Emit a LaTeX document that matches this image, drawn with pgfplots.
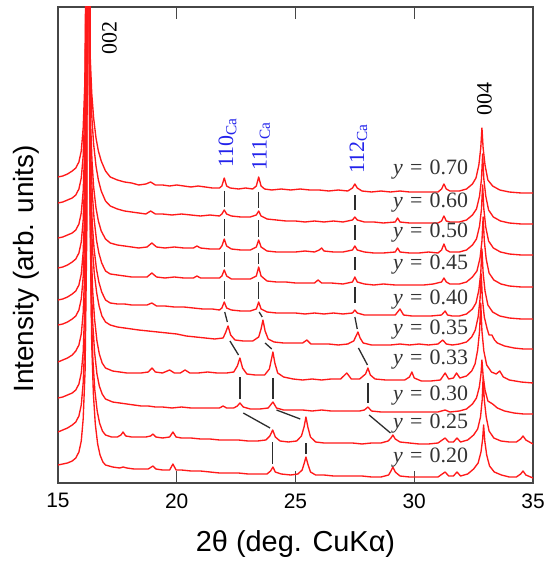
\documentclass[border=0pt]{standalone}
\usepackage{fontspec}
\setmainfont{Liberation Sans}
\newfontfamily\tnr{Liberation Serif}
\usepackage{pgfplots}
\pgfplotsset{compat=1.18}
\definecolor{axgray}{RGB}{70,70,70}
\definecolor{xrdred}{RGB}{255,25,25}
\definecolor{lblblue}{RGB}{35,35,235}
\definecolor{guide}{RGB}{45,45,45}

\begin{document}
\begin{tikzpicture}
\useasboundingbox (-58bp,-79bp) rectangle (489bp,483bp);
\begin{axis}[
scale only axis,
width=475bp, height=476bp,
xmin=15, xmax=35, ymin=0, ymax=476,
xtick={15,20,25,30,35}, ytick=\empty,
tick align=inside,
major tick length=12bp,
axis line style={draw=axgray, line width=1.3bp},
tick style={draw=axgray, line width=1.1bp},
/pgf/number format/assume math mode=true,
xticklabel style={font=\fontsize{21}{25}\selectfont, yshift=-7bp},
xlabel={2θ (deg. CuKα)},
ylabel={Intensity (arb. units)},
xlabel style={font=\fontsize{29}{33}\selectfont, at={(axis description cs:0.5,-0.128)}, anchor=center},
ylabel style={font=\fontsize{28}{32}\selectfont, at={(axis description cs:-0.066,0.45)}, anchor=center},
xrd/.style={draw=xrdred, line width=1.35bp, line join=round, mark=none},
gd/.style={draw=guide, line width=1.3bp, mark=none},
]
% y = 0.70
\addplot[xrd] coordinates {(15.0,306) (15.2,307) (15.4,309) (15.6,312) (15.75,315) (15.88,321) (15.98,332) (16.06,355) (16.13,400) (16.18,540) (16.23,2000) (16.29,540) (16.35,430) (16.42,390) (16.5,365) (16.6,345) (16.7,332) (16.82,322) (17.0,312) (17.2,306) (17.5,303) (17.8,301) (18.1,300) (18.4,298) (18.7,299) (18.9,301) (19.1,298) (19.4,298) (19.7,297) (20.0,298) (20.3,297) (20.6,296) (20.9,297) (21.2,296) (21.5,295) (21.8,295) (21.9,297) (22.0,305) (22.1,297) (22.25,295) (22.6,294) (22.9,295) (23.2,294) (23.35,297) (23.45,306) (23.55,297) (23.7,294) (24.0,293) (24.4,294) (24.8,293) (25.2,294) (25.6,293) (26.0,293) (26.4,292) (26.8,293) (27.2,292) (27.4,295) (27.5,299) (27.6,295) (27.8,292) (28.2,291) (28.6,292) (29.0,291) (29.4,292) (29.8,291) (30.2,291) (30.6,291) (31.0,291) (31.15,294) (31.25,299) (31.35,294) (31.5,292) (31.9,292) (32.2,294) (32.45,299) (32.6,305) (32.72,318) (32.8,335) (32.85,355) (32.9,335) (32.98,318) (33.1,303) (33.3,297) (33.6,293) (34.0,291) (34.5,290) (35.0,290)};
% y = 0.60
\addplot[xrd] coordinates {(15.0,280) (15.2,281) (15.4,283) (15.6,285) (15.75,288) (15.88,294) (15.98,305) (16.06,327) (16.13,374) (16.19,519) (16.24,2000) (16.3,519) (16.36,409) (16.43,364) (16.5,339) (16.6,317) (16.7,303) (16.82,292) (17.0,282) (17.2,277) (17.5,274) (17.8,272) (18.1,271) (18.4,270) (18.7,269) (18.9,272) (19.1,269) (19.4,269) (19.8,268) (20.2,269) (20.6,268) (21.0,267) (21.4,268) (21.8,267) (21.9,269) (22.0,273) (22.1,269) (22.3,267) (22.7,266) (23.1,266) (23.35,268) (23.45,272) (23.55,267) (23.8,264) (24.2,263) (24.6,262) (25.0,262) (25.4,261) (25.8,262) (26.2,261) (26.6,262) (27.0,261) (27.4,263) (27.5,266) (27.6,263) (27.9,261) (28.3,261) (28.7,260) (29.2,261) (29.3,265) (29.4,261) (29.8,260) (30.2,260) (30.6,260) (31.0,260) (31.15,262) (31.25,267) (31.35,262) (31.5,261) (31.9,261) (32.2,263) (32.45,268) (32.62,274) (32.75,287) (32.83,304) (32.88,329) (32.93,304) (33.01,287) (33.13,273) (33.33,266) (33.63,262) (34.0,260) (34.5,259) (35.0,259)};
% y = 0.50
\addplot[xrd] coordinates {(15.0,245) (15.2,246) (15.4,248) (15.6,250) (15.75,253) (15.88,259) (15.98,270) (16.06,292) (16.13,338) (16.19,488) (16.24,2000) (16.3,488) (16.36,368) (16.43,323) (16.5,296) (16.6,275) (16.7,262) (16.82,252) (17.0,244) (17.2,240) (17.5,238) (17.8,237) (18.1,236) (18.4,235) (18.75,236) (18.95,240) (19.15,236) (19.5,235) (19.9,236) (20.3,235) (20.7,235) (20.85,237) (21.0,235) (21.4,234) (21.8,234) (21.9,237) (22.0,244) (22.1,237) (22.3,234) (22.7,233) (23.1,233) (23.35,236) (23.45,243) (23.55,236) (23.8,232) (24.2,231) (24.6,231) (25.0,231) (25.4,232) (25.8,231) (26.0,233) (26.1,235) (26.2,232) (26.6,231) (27.0,231) (27.4,233) (27.5,237) (27.6,233) (27.9,231) (28.3,230) (28.7,230) (29.2,231) (29.3,235) (29.4,231) (29.8,230) (30.2,230) (30.6,231) (31.0,230) (31.15,233) (31.25,239) (31.35,233) (31.5,231) (31.9,231) (32.2,233) (32.45,238) (32.62,244) (32.75,257) (32.83,274) (32.88,298) (32.93,274) (33.01,256) (33.13,242) (33.33,235) (33.63,231) (34.0,229) (34.5,228) (35.0,228)};
% y = 0.45
\addplot[xrd] coordinates {(15.0,215) (15.2,216) (15.4,218) (15.6,221) (15.75,224) (15.88,230) (15.98,241) (16.06,263) (16.13,308) (16.19,456) (16.25,2000) (16.31,456) (16.37,336) (16.44,291) (16.52,264) (16.62,243) (16.72,230) (16.84,220) (17.0,212) (17.2,209) (17.5,208) (17.8,207) (18.1,206) (18.4,206) (18.75,206) (18.95,210) (19.15,206) (19.5,205) (19.9,206) (20.3,205) (20.7,205) (20.85,207) (21.0,205) (21.4,205) (21.8,205) (21.9,207) (22.0,213) (22.1,207) (22.3,204) (22.7,204) (23.1,204) (23.35,207) (23.45,216) (23.55,207) (23.8,202) (24.2,201) (24.6,201) (25.0,200) (25.4,200) (25.8,200) (25.95,203) (26.1,200) (26.5,200) (27.0,199) (27.4,201) (27.5,206) (27.6,201) (27.9,199) (28.3,198) (28.7,199) (29.2,198) (29.6,198) (30.0,198) (30.4,198) (30.8,199) (31.15,201) (31.25,205) (31.35,201) (31.5,199) (31.9,199) (32.2,201) (32.45,206) (32.64,212) (32.77,225) (32.85,242) (32.9,266) (32.95,242) (33.03,224) (33.15,210) (33.35,203) (33.65,199) (34.0,197) (34.5,196) (35.0,196)};
% y = 0.40
\addplot[xrd] coordinates {(15.0,183) (15.2,184) (15.4,186) (15.6,189) (15.75,192) (15.88,198) (15.98,209) (16.06,231) (16.13,276) (16.19,424) (16.25,2000) (16.31,424) (16.37,304) (16.44,261) (16.52,234) (16.62,214) (16.72,201) (16.84,191) (17.0,183) (17.2,180) (17.5,179) (17.8,179) (18.1,178) (18.4,178) (18.75,178) (18.95,180) (19.15,177) (19.5,177) (19.9,176) (20.3,176) (20.7,175) (21.1,174) (21.5,174) (21.8,173) (21.9,175) (22.0,181) (22.1,175) (22.3,173) (22.7,172) (23.1,172) (23.35,174) (23.45,181) (23.55,174) (23.8,171) (24.2,170) (24.6,170) (25.0,170) (25.4,169) (25.8,170) (26.2,169) (26.6,170) (27.0,169) (27.4,170) (27.5,173) (27.6,170) (27.9,168) (28.3,168) (28.7,168) (29.2,168) (29.4,174) (29.55,168) (29.9,167) (30.3,167) (30.7,167) (31.15,168) (31.3,172) (31.4,168) (31.6,167) (31.9,167) (32.2,169) (32.45,174) (32.6,180) (32.72,193) (32.8,210) (32.85,234) (32.9,210) (32.98,192) (33.1,178) (33.3,171) (33.6,167) (34.0,165) (34.5,164) (35.0,164)};
% y = 0.35
\addplot[xrd] coordinates {(15.0,158) (15.2,159) (15.4,161) (15.6,164) (15.75,167) (15.88,173) (15.98,184) (16.06,206) (16.13,251) (16.19,394) (16.26,2000) (16.32,394) (16.38,279) (16.45,234) (16.53,209) (16.63,190) (16.73,177) (16.85,167) (17.0,161) (17.2,158) (17.5,156) (17.8,155) (18.1,154) (18.4,153) (18.8,152) (19.2,151) (19.6,150) (20.0,149) (20.4,147) (20.8,146) (21.2,145) (21.6,144) (21.95,145) (22.05,150) (22.16,157) (22.27,148) (22.45,143) (22.8,142) (23.2,142) (23.45,146) (23.55,154) (23.63,163) (23.72,152) (23.85,144) (24.1,141) (24.5,140) (24.9,140) (25.3,140) (25.48,143) (25.65,139) (26.0,139) (26.4,139) (26.8,138) (27.2,139) (27.45,142) (27.55,147) (27.63,151) (27.72,145) (27.85,140) (28.2,138) (28.6,138) (29.0,138) (29.4,139) (29.8,138) (30.2,139) (30.6,138) (31.0,139) (31.2,143) (31.35,139) (31.6,138) (31.9,139) (32.2,141) (32.42,146) (32.57,153) (32.69,166) (32.77,184) (32.82,209) (32.87,184) (32.95,166) (33.07,154) (33.15,148) (33.27,148) (33.38,143) (33.5,140) (33.8,137) (34.2,135) (34.6,134) (35.0,134)};
% y = 0.33
\addplot[xrd] coordinates {(15.0,121) (15.2,123) (15.4,125) (15.6,128) (15.75,132) (15.88,138) (15.98,149) (16.06,170) (16.13,215) (16.2,360) (16.27,2000) (16.33,360) (16.39,240) (16.46,192) (16.54,164) (16.64,142) (16.74,129) (16.86,120) (17.0,115) (17.3,112) (17.6,111) (17.9,110) (18.2,110) (18.5,110) (18.8,111) (18.96,115) (19.1,111) (19.4,110) (19.7,113) (19.9,110) (20.15,110) (20.35,113) (20.55,110) (20.9,110) (21.3,111) (21.7,110) (22.1,110) (22.4,111) (22.55,117) (22.66,125) (22.77,115) (22.95,109) (23.3,108) (23.7,108) (23.9,114) (23.98,123) (24.05,131) (24.13,120) (24.25,110) (24.5,106) (24.9,104) (25.3,103) (25.7,104) (26.1,103) (26.5,104) (26.9,104) (27.16,110) (27.35,104) (27.7,104) (27.95,109) (28.05,115) (28.15,108) (28.35,104) (28.8,103) (29.2,103) (29.6,103) (29.8,106) (29.9,111) (30.0,105) (30.3,102) (30.7,102) (31.1,103) (31.3,110) (31.45,104) (31.65,105) (31.78,110) (31.92,105) (32.2,107) (32.42,112) (32.56,119) (32.67,133) (32.75,152) (32.8,180) (32.85,152) (32.93,132) (33.05,118) (33.25,111) (33.45,109) (33.6,112) (33.75,106) (34.0,103) (34.5,101) (35.0,100)};
% y = 0.30
\addplot[xrd] coordinates {(15.0,85) (15.2,86) (15.4,88) (15.6,90) (15.75,93) (15.88,99) (15.98,110) (16.06,131) (16.13,177) (16.2,329) (16.27,2000) (16.33,329) (16.39,209) (16.46,161) (16.54,131) (16.64,109) (16.74,97) (16.86,89) (17.0,84) (17.3,81) (17.6,80) (17.9,79) (18.2,78) (18.5,77) (18.8,77) (19.1,76) (19.4,76) (19.8,75) (20.2,76) (20.6,75) (21.0,75) (21.4,75) (21.8,75) (21.95,77) (22.1,75) (22.4,75) (22.55,77) (22.66,80) (22.8,76) (23.1,74) (23.5,74) (23.85,75) (24.05,81) (24.2,75) (24.5,73) (24.9,73) (25.3,73) (25.7,72) (26.1,73) (26.5,72) (26.9,72) (27.3,72) (27.7,72) (27.9,73) (28.05,76) (28.2,72) (28.6,71) (29.0,71) (29.4,71) (29.8,71) (30.2,71) (30.6,71) (31.0,71) (31.3,73) (31.5,71) (31.9,72) (32.2,74) (32.45,79) (32.62,85) (32.74,96) (32.81,109) (32.85,123) (32.9,107) (32.98,93) (33.1,82) (33.3,79) (33.5,75) (33.8,72) (34.2,70) (34.6,69) (35.0,69)};
% y = 0.25
\addplot[xrd] coordinates {(15.0,51) (15.2,53) (15.4,55) (15.6,58) (15.75,61) (15.88,67) (15.98,78) (16.06,100) (16.14,148) (16.21,298) (16.28,2000) (16.34,298) (16.4,173) (16.47,123) (16.55,93) (16.65,72) (16.75,60) (16.87,52) (17.0,48) (17.25,46) (17.5,46) (17.65,48) (17.74,51) (17.85,47) (18.1,46) (18.4,46) (18.7,46) (18.9,47) (19.0,49) (19.12,46) (19.4,45) (19.7,46) (19.84,51) (19.97,46) (20.2,45) (20.6,45) (21.0,44) (21.4,44) (21.8,43) (22.2,43) (22.6,43) (23.0,42) (23.4,42) (23.75,43) (23.92,47) (24.04,53) (24.15,46) (24.35,42) (24.7,41) (25.05,42) (25.25,47) (25.36,56) (25.44,66) (25.52,56) (25.63,46) (25.85,41) (26.2,40) (26.6,40) (27.0,40) (27.4,40) (27.8,39) (28.2,40) (28.6,40) (28.9,42) (29.02,45) (29.1,48) (29.2,44) (29.4,41) (29.8,40) (30.2,39) (30.6,39) (31.0,40) (31.3,45) (31.45,41) (31.65,41) (31.8,45) (31.95,41) (32.25,43) (32.5,48) (32.67,54) (32.79,66) (32.86,83) (32.9,106) (32.95,83) (33.03,66) (33.15,52) (33.35,45) (33.65,42) (34.0,41) (34.3,41) (34.48,44) (34.58,47) (34.7,43) (35.0,39)};
% y = 0.20
\addplot[xrd] coordinates {(15.0,18) (15.2,19) (15.4,20) (15.6,22) (15.75,25) (15.88,31) (15.98,42) (16.06,64) (16.14,112) (16.22,264) (16.29,2000) (16.36,264) (16.42,139) (16.49,89) (16.57,59) (16.67,39) (16.77,28) (16.89,21) (17.0,18) (17.3,16) (17.6,15) (17.74,16) (17.9,15) (18.2,14) (18.5,14) (18.8,14) (19.0,17) (19.12,14) (19.4,13) (19.7,13) (19.84,19) (19.97,13) (20.2,13) (20.6,12) (21.0,12) (21.4,11) (21.8,10) (22.2,10) (22.6,10) (23.0,9) (23.4,9) (23.8,9) (23.95,12) (24.05,16) (24.15,11) (24.4,9) (24.8,8) (25.1,9) (25.28,13) (25.37,20) (25.44,26) (25.52,19) (25.63,11) (25.85,8) (26.2,8) (26.6,7) (27.0,7) (27.4,7) (27.8,7) (28.2,6) (28.6,6) (28.92,8) (29.02,12) (29.1,16) (29.2,11) (29.4,7) (29.8,6) (30.2,6) (30.6,6) (31.0,6) (31.3,11) (31.45,7) (31.65,7) (31.8,11) (31.95,7) (32.25,9) (32.5,14) (32.69,20) (32.81,31) (32.88,44) (32.92,58) (32.97,42) (33.05,28) (33.17,17) (33.37,11) (33.67,8) (34.0,6) (34.3,6) (34.48,9) (34.58,12) (34.7,8) (35.0,5)};
% guide lines 110
\addplot[gd] coordinates {(22.0,292) (22.0,276)};
\addplot[gd] coordinates {(22.0,264) (22.0,247)};
\addplot[gd] coordinates {(22.0,231) (22.0,216)};
\addplot[gd] coordinates {(22.0,202) (22.0,184)};
\addplot[gd] coordinates {(22.02,171) (22.13,161)};
\addplot[gd] coordinates {(22.24,142) (22.6,128)};
\addplot[gd] coordinates {(22.66,106) (22.66,84)};
\addplot[gd] coordinates {(22.8,70) (23.93,55)};
\addplot[gd] coordinates {(24.04,41) (24.04,19)};
% guide lines 111
\addplot[gd] coordinates {(23.45,291) (23.45,275)};
\addplot[gd] coordinates {(23.45,263) (23.45,246)};
\addplot[gd] coordinates {(23.45,230) (23.45,219)};
\addplot[gd] coordinates {(23.45,201) (23.45,184)};
\addplot[gd] coordinates {(23.47,171) (23.6,166)};
\addplot[gd] coordinates {(23.72,140) (24.0,134)};
\addplot[gd] coordinates {(24.05,105) (24.05,84)};
\addplot[gd] coordinates {(24.2,73) (25.2,64)};
\addplot[gd] coordinates {(25.44,40) (25.44,29)};
% guide lines 112
\addplot[gd] coordinates {(27.5,288) (27.5,273)};
\addplot[gd] coordinates {(27.5,258) (27.5,243)};
\addplot[gd] coordinates {(27.5,226) (27.5,213)};
\addplot[gd] coordinates {(27.5,196) (27.5,180)};
\addplot[gd] coordinates {(27.5,166) (27.6,154)};
\addplot[gd] coordinates {(27.65,135) (28.03,118)};
\addplot[gd] coordinates {(28.05,100) (28.05,80)};
\addplot[gd] coordinates {(28.1,68) (29.0,50)};
% peak labels
\node[rotate=90, anchor=west, inner sep=0pt, font=\tnr\fontsize{22}{26}\selectfont] at (axis cs:17.17,428) {002};
\node[rotate=90, anchor=west, inner sep=0pt, font=\tnr\fontsize{22}{26}\selectfont] at (axis cs:32.96,367) {004};
\node[rotate=90, anchor=west, inner sep=0pt, text=lblblue, font=\tnr\fontsize{22}{26}\selectfont] at (axis cs:22.14,315) {110\textsubscript{Ca}};
\node[rotate=90, anchor=west, inner sep=0pt, text=lblblue, font=\tnr\fontsize{22}{26}\selectfont] at (axis cs:23.55,312) {111\textsubscript{Ca}};
\node[rotate=90, anchor=west, inner sep=0pt, text=lblblue, font=\tnr\fontsize{22}{26}\selectfont] at (axis cs:27.65,309) {112\textsubscript{Ca}};
% composition labels
\foreach \v/\yy in {0.70/308, 0.60/275, 0.50/245, 0.45/213, 0.40/178, 0.35/148, 0.33/118, 0.30/83, 0.25/55, 0.20/21} {
  \edef\tmp{\noexpand\node[anchor=base east, inner sep=0pt, text=black!80, font=\noexpand\tnr\noexpand\fontsize{22}{26}\noexpand\selectfont] at (axis cs:32.27,\yy) {\noexpand\textit{y}\noexpand\hspace{0.33em}=\noexpand\hspace{0.33em}\v};}
  \tmp
}
\end{axis}
\end{tikzpicture}
\end{document}
